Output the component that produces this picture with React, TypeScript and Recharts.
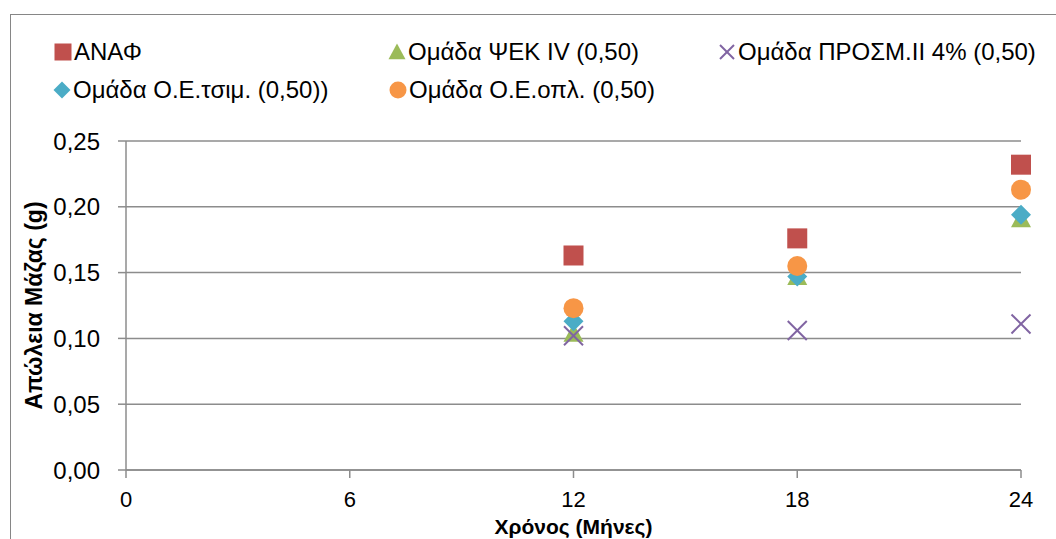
import React from 'react';
import { ScatterChart, Scatter, XAxis, YAxis, CartesianGrid, Legend } from 'recharts';

// months and mass loss (g)
const months = [12, 18, 24];
const anaf = [0.163, 0.176, 0.232];
const psek = [0.104, 0.147, 0.191];
const prosm = [0.102, 0.106, 0.111];
const oeTsim = [0.113, 0.147, 0.194];
const oeOpl = [0.123, 0.155, 0.213];

const xTicks = [0, 6, 12, 18, 24];
const yTicks = [0, 0.05, 0.1, 0.15, 0.2, 0.25];

const FONT = '"Liberation Sans", Arial, sans-serif';
const AXIS = '#8c8c8c';

type Marker = 'square' | 'triangle' | 'cross' | 'diamond' | 'circle';

const series: { name: string; values: number[]; color: string; marker: Marker }[] = [
  { name: 'ΑΝΑΦ', values: anaf, color: '#C0504D', marker: 'square' },
  { name: 'Ομάδα ΨΕΚ IV (0,50)', values: psek, color: '#9BBB59', marker: 'triangle' },
  { name: 'Ομάδα ΠΡΟΣΜ.II 4% (0,50)', values: prosm, color: '#8064A2', marker: 'cross' },
  { name: 'Ομάδα Ο.Ε.τσιμ. (0,50))', values: oeTsim, color: '#4BACC6', marker: 'diamond' },
  { name: 'Ομάδα Ο.Ε.οπλ. (0,50)', values: oeOpl, color: '#F79646', marker: 'circle' },
];

// legend slots (icon left edge, row centre)
const legendSlots = [
  { left: 54, top: 52 },
  { left: 388, top: 52 },
  { left: 718, top: 52 },
  { left: 53, top: 90 },
  { left: 389, top: 90 },
];

function drawMarker(marker: Marker, cx: number, cy: number, r: number, color: string) {
  switch (marker) {
    case 'square':
      return <rect x={cx - r} y={cy - r} width={r * 2} height={r * 2} fill={color} />;
    case 'triangle':
      return <polygon points={`${cx},${cy - r} ${cx + r},${cy + r * 0.85} ${cx - r},${cy + r * 0.85}`} fill={color} />;
    case 'cross':
      return (
        <g stroke={color} strokeWidth={2}>
          <line x1={cx - r} y1={cy - r} x2={cx + r} y2={cy + r} />
          <line x1={cx - r} y1={cy + r} x2={cx + r} y2={cy - r} />
        </g>
      );
    case 'diamond':
      return <polygon points={`${cx},${cy - r} ${cx + r},${cy} ${cx},${cy + r} ${cx - r},${cy}`} fill={color} />;
    default:
      return <circle cx={cx} cy={cy} r={r} fill={color} />;
  }
}

function ChartLegend() {
  return (
    <div style={{ position: 'relative', width: 1056, height: 0 }}>
      {series.map((s, i) => (
        <div
          key={s.name}
          style={{
            position: 'absolute',
            left: legendSlots[i].left,
            top: legendSlots[i].top - 14,
            height: 28,
            display: 'flex',
            alignItems: 'center',
            whiteSpace: 'nowrap',
            fontFamily: FONT,
            fontSize: 24,
            color: '#000',
          }}
        >
          <svg width={18} height={20} style={{ marginRight: 2 }}>
            {drawMarker(s.marker, 9, 10, s.marker === 'cross' ? 7 : 8.5, s.color)}
          </svg>
          <span>{s.name}</span>
        </div>
      ))}
    </div>
  );
}

export default function App() {
  return (
    <div style={{ position: 'absolute', left: 0, top: 0, width: 1056, height: 539, background: '#fff', overflow: 'hidden' }}>
      <div
        style={{
          position: 'absolute',
          left: 10,
          top: 14,
          width: 1060,
          height: 540,
          border: '1.5px solid #868686',
          boxSizing: 'border-box',
        }}
      />
      <ScatterChart width={1056} height={539} margin={{ top: 141, right: 35, bottom: 0, left: 0 }}>
        <CartesianGrid vertical={false} stroke={AXIS} strokeWidth={1.5} />
        <XAxis
          type="number"
          dataKey="x"
          domain={[0, 24]}
          ticks={xTicks}
          height={69}
          tickSize={8}
          tickMargin={13}
          stroke={AXIS}
          strokeWidth={1.5}
          tick={{ fill: '#000', fontSize: 22, fontFamily: FONT }}
          label={{
            content: ({ viewBox }: any) => (
              <text
                x={viewBox.x + viewBox.width / 2}
                y={526}
                textAnchor="middle"
                dominantBaseline="central"
                fontFamily={FONT}
                fontSize={21}
                fontWeight="bold"
              >
                Χρόνος (Μήνες)
              </text>
            ),
          }}
        />
        <YAxis
          type="number"
          dataKey="y"
          domain={[0, 0.25]}
          ticks={yTicks}
          width={126}
          tickSize={8}
          tickMargin={18}
          stroke={AXIS}
          strokeWidth={1.5}
          tickFormatter={(v: number) => v.toFixed(2).replace('.', ',')}
          tick={{ fill: '#000', fontSize: 24, fontFamily: FONT }}
          label={{
            content: ({ viewBox }: any) => {
              const cy = viewBox.y + viewBox.height / 2;
              return (
                <text
                  x={34}
                  y={cy}
                  transform={`rotate(-90, 34, ${cy})`}
                  textAnchor="middle"
                  dominantBaseline="central"
                  fontFamily={FONT}
                  fontSize={23}
                  fontWeight="bold"
                >
                  Απώλεια Μάζας (g)
                </text>
              );
            },
          }}
        />
        <Legend verticalAlign="top" wrapperStyle={{ position: 'absolute', left: 0, top: 0 }} content={() => <ChartLegend />} />
        {series.map((s) => (
          <Scatter
            key={s.name}
            name={s.name}
            data={months.map((m, i) => ({ x: m, y: s.values[i] }))}
            fill={s.color}
            isAnimationActive={false}
            shape={(p: any) => drawMarker(s.marker, p.cx, p.cy, s.marker === 'cross' ? 9.5 : 10, s.color)}
          />
        ))}
      </ScatterChart>
    </div>
  );
}
